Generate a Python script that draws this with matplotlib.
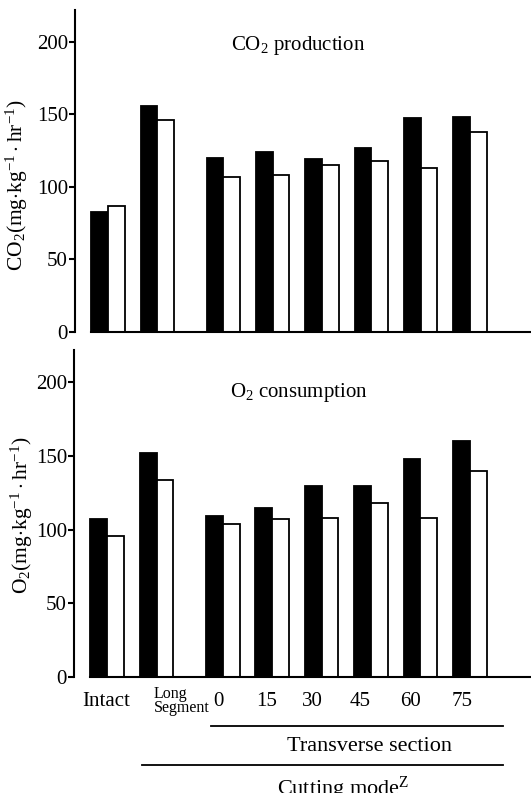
import matplotlib
matplotlib.use('Agg')
import matplotlib.pyplot as plt
import matplotlib.transforms as mtransforms
import numpy as np

# data
categories = ['Intact', 'Long\nSegment', '0', '15', '30', '45', '60', '75']
group_pos = [0, 1, 2.34, 3.34, 4.34, 5.34, 6.34, 7.34]
co2_black = [83, 156, 120, 124, 119, 127, 147.5, 148]
co2_white = [87, 146, 107, 108, 115, 118, 113, 138]
o2_black = [107, 152, 109, 115, 130, 130, 148, 160]
o2_white = [96, 134, 104, 107, 108, 118, 108, 140]
yticks = [0, 50, 100, 150, 200]

plt.rcParams['font.family'] = ['Liberation Serif', 'DejaVu Serif']
plt.rcParams['mathtext.fontset'] = 'custom'
plt.rcParams['mathtext.rm'] = 'Liberation Serif'
plt.rcParams['mathtext.it'] = 'Liberation Serif:italic'

fig = plt.figure(figsize=(5.31, 7.93), dpi=100)
ax1 = fig.add_axes([75 / 531, 1 - 332 / 793, 456 / 531, 322 / 793])
ax2 = fig.add_axes([74 / 531, 1 - 677 / 793, 457 / 531, 327 / 793])

w = 0.34
x = np.array(group_pos)


def panel(ax, black, white, ylabel, title, lab_x, lab_y, tx, ty):
    ax.bar(x - w / 2, black, w, color='black', edgecolor='black', linewidth=1.3)
    ax.bar(x + w / 2, white, w, color='white', edgecolor='black', linewidth=1.3)
    ax.set_xlim(-0.67, 8.58)
    ax.set_ylim(0, 222)
    ax.set_yticks(yticks)
    ax.set_yticklabels([str(v) for v in yticks], fontsize=15)
    ax.tick_params(axis='y', length=4, width=1.5, pad=1)
    for s in ['top', 'right']:
        ax.spines[s].set_visible(False)
    ax.spines['left'].set_linewidth(1.5)
    ax.spines['bottom'].set_linewidth(1.5)
    ax.spines['bottom'].set_bounds(x[0] - w, 8.58)
    ax.set_ylabel(ylabel, fontsize=15.5)
    ax.yaxis.set_label_coords(lab_x, lab_y)
    ax.text(tx, ty, title, transform=ax.transAxes, ha='center', va='center',
            fontsize=15)


panel(ax1, co2_black, co2_white,
      r'CO$_2$(mg$\cdot$kg$^{-1}\cdot$hr$^{-1}$)', r'CO$_2$ production',
      -0.099, 0.456, 0.489, 0.891)
panel(ax2, o2_black, o2_white,
      r'O$_2$(mg$\cdot$kg$^{-1}\cdot$hr$^{-1}$)', r'O$_2$ consumption',
      -0.085, 0.495, 0.492, 0.869)

ax1.set_xticks([])
ax2.set_xticks(group_pos)
ax2.set_xticklabels(categories, fontsize=15)
ax2.tick_params(axis='x', length=0, pad=11)

# nudge tick labels to where the printed ones sit (pixels)
nudge = [(-1, 0), (-3, 6), (-4, 0), (-6, 0), (-9, 0), (-11, 0), (-10, 0), (-8, 0)]
for lab, (dx, dy) in zip(ax2.get_xticklabels(), nudge):
    lab.set_transform(lab.get_transform() +
                      mtransforms.ScaledTranslation(dx / 100, dy / 100, fig.dpi_scale_trans))
small = ax2.get_xticklabels()[1]
small.set_fontsize(11.5)
small.set_linespacing(0.85)
small.set_ha('left')
small.set_va('top')

# grouping lines below the axis
trans = mtransforms.blended_transform_factory(ax2.transData, ax2.transAxes)
ax2.plot([2.11, 8.01], [-0.150, -0.150], color='black', lw=1.3,
         transform=trans, clip_on=False)
ax2.text(5.31, -0.214, 'Transverse section', transform=trans, ha='center',
         va='center', fontsize=16)
ax2.plot([0.71, 8.01], [-0.269, -0.269], color='black', lw=1.3,
         transform=trans, clip_on=False)
ax2.text(4.77, -0.361, r'Cutting mode$^{\rm Z}$', transform=trans, ha='center',
         va='baseline', fontsize=16)

plt.savefig('out.png', dpi=100)
